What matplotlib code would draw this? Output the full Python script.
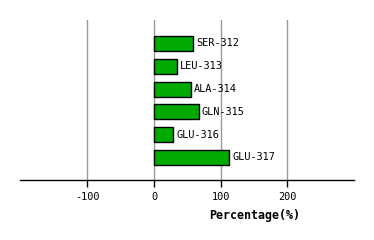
import matplotlib
matplotlib.use("Agg")
import matplotlib.pyplot as plt

labels = ["SER-312", "LEU-313", "ALA-314", "GLN-315", "GLU-316", "GLU-317"]
values = [59, 34, 55, 67, 29, 113]
xticks = [-100, 0, 100, 200]

W, H = 374, 240
fig = plt.figure(figsize=(W/100, H/100), dpi=100)
ax = fig.add_axes([20/W, 60/H, 334/W, 160/H])
ax.set_xlim(-201, 300)
ax.set_ylim(5.99, -1.03)

for t in xticks:
    ax.axvline(t, color="#999999", lw=1, zorder=0)

pos = list(range(len(labels)))
ax.barh(pos, values, height=0.66, color="#00AA00", edgecolor="black", lw=1, zorder=2)
for p, v, l in zip(pos, values, labels):
    ax.text(v + 5, p, l, va="center", ha="left", family="DejaVu Sans Mono", fontsize=7.4)

for s in ["left", "right", "top"]:
    ax.spines[s].set_visible(False)
ax.spines["bottom"].set_linewidth(1)
ax.set_yticks([])
ax.set_xticks(xticks)
ax.set_xticklabels([str(t) for t in xticks], family="DejaVu Sans Mono", fontsize=7.4)
ax.tick_params(axis="x", length=5, width=1, pad=4)
fig.text(255/W, 1 - 215/H, "Percentage(%)", ha="center", va="center",
         family="DejaVu Sans Mono", fontsize=8.4, fontweight="bold")
fig.savefig("out.png", dpi=100)
